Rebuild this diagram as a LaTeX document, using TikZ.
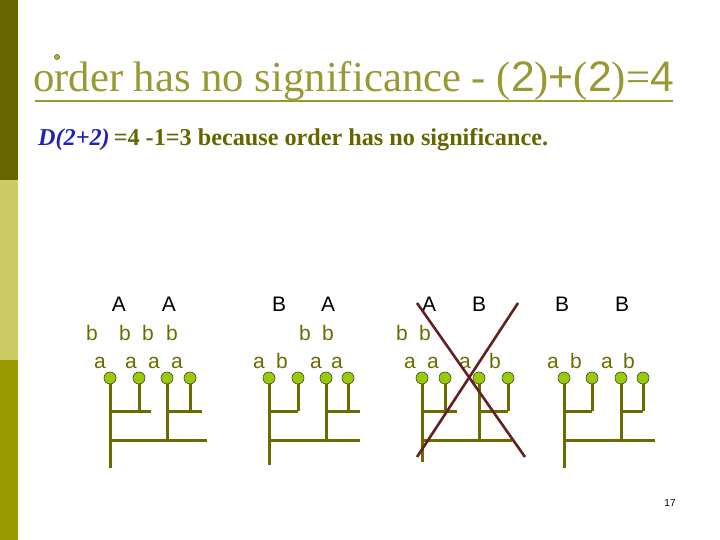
\documentclass[tikz,border=0pt]{standalone}
\usepackage{fontspec}
\setmainfont{Liberation Serif}
\setsansfont{Liberation Sans}
\usepackage{tikz}
\usetikzlibrary{calc}

\definecolor{bardark}{HTML}{666600}
\definecolor{barlight}{HTML}{CCCC66}
\definecolor{barmid}{HTML}{999900}
\definecolor{titleolive}{HTML}{999933}
\definecolor{stemolive}{HTML}{6B6B00}
\definecolor{leafgreen}{HTML}{99CC00}
\definecolor{dblue}{HTML}{2222BB}
\definecolor{crossred}{HTML}{642020}

\newcommand{\snum}[1]{{\sffamily #1}}

\tikzset{
  leaf/.style={circle,draw=black!75,line width=0.6pt,fill=leafgreen,inner sep=0pt,minimum size=12pt},
  stem/.style={line width=3pt,color=stemolive},
  biglab/.style={anchor=base,inner sep=0pt,font=\fontsize{21}{21}\selectfont\sffamily,text=black},
  smalllab/.style={anchor=base,inner sep=0pt,font=\fontsize{21}{21}\selectfont\sffamily,text=stemolive},
  crossline/.style={line width=2.6pt,color=crossred}
}

\begin{document}
\begin{tikzpicture}[x=1pt,y=-1pt]
        \useasboundingbox (0,0) rectangle (720,540);
        % side bar
        \fill[bardark] (0,0) rectangle (18,180);
        \fill[barlight] (0,180) rectangle (18,360);
        \fill[barmid] (0,360) rectangle (18,540);
        % title
        \node[circle,draw=black!70,fill=leafgreen,inner sep=0pt,minimum size=5pt,line width=0.5pt] (dot) at (57,57) {};
        \node[anchor=base west,inner sep=0pt,text=titleolive,font=\fontsize{42.7}{43}\selectfont] (title) at (33,92)
          {order has no significance - (\snum{2})\snum{+}(\snum{2})=\snum{4}};
        \coordinate (ul-a) at (35,101);
        \coordinate (ul-b) at (673,101);
        \draw[titleolive,line width=2pt] (ul-a) -- (ul-b);
        \node[anchor=base west,inner sep=0pt,text=bardark,font=\fontsize{24.2}{24}\selectfont\bfseries] (sub) at (38,146)
          {{\color{dblue}\itshape D(2+2)}\,=4 -1=3 because order has no significance.};
        % labels above the leaves
        \foreach \x/\t [count=\i] in {119/A,169/A,279/B,328/A,429/A,479/B,562/B,622/B}
          \node[biglab] (up\i) at (\x,311) {\t};
        \foreach \x [count=\i] in {92,125,148,172,305,328,402,425}
          \node[smalllab] (mid\i) at (\x,340) {b};
        \foreach \x/\t [count=\i] in {100/a,131/a,154/a,177/a,259/a,282/b,316/a,337/a,
                                      410/a,433/a,465/a,495/b,553/a,576/b,607/a,629/b}
          \node[smalllab] (low\i) at (\x,368) {\t};
        % trees
        \foreach \n/\xa/\xb/\xc/\xd/\yb/\el/\er/\eb in
          {1/110/139/167/190/468/151/202/207,
           2/269/298/326/348/465/298/360/360,
           3/422/445/479/508/462/457/508/512,
           4/564/592/621/643/468/592/643/655}{
          \coordinate (t\n-bot) at (\xa,\yb);
          \coordinate (t\n-pl) at (\xa,411);
          \coordinate (t\n-ple) at (\el,411);
          \coordinate (t\n-pr) at (\xc,411);
          \coordinate (t\n-pre) at (\er,411);
          \coordinate (t\n-bl) at (\xa,440);
          \coordinate (t\n-ble) at (\eb,440);
          \draw[stem] (\xa,378) -- (t\n-bot);
          \draw[stem] (\xb,378) -- (\xb,411);
          \draw[stem] (\xc,378) -- (\xc,440);
          \draw[stem] (\xd,378) -- (\xd,411);
          \draw[stem] (t\n-pl) -- (t\n-ple);
          \draw[stem] (t\n-pr) -- (t\n-pre);
          \draw[stem] (t\n-bl) -- (t\n-ble);
          \node[leaf] (t\n-l1) at (\xa,378) {};
          \node[leaf] (t\n-l2) at (\xb,378) {};
          \node[leaf] (t\n-l3) at (\xc,378) {};
          \node[leaf] (t\n-l4) at (\xd,378) {};
        }
        % crossed out
        \coordinate (xa) at (417,303);
        \coordinate (xb) at (525,457);
        \coordinate (xc) at (518,303);
        \coordinate (xd) at (417,457);
        \draw[crossline] (xa) -- (xb);
        \draw[crossline] (xc) -- (xd);
        \node[anchor=base,inner sep=0pt,font=\fontsize{10}{10}\selectfont\sffamily] (page) at (670,506) {17};
\end{tikzpicture}
\end{document}
